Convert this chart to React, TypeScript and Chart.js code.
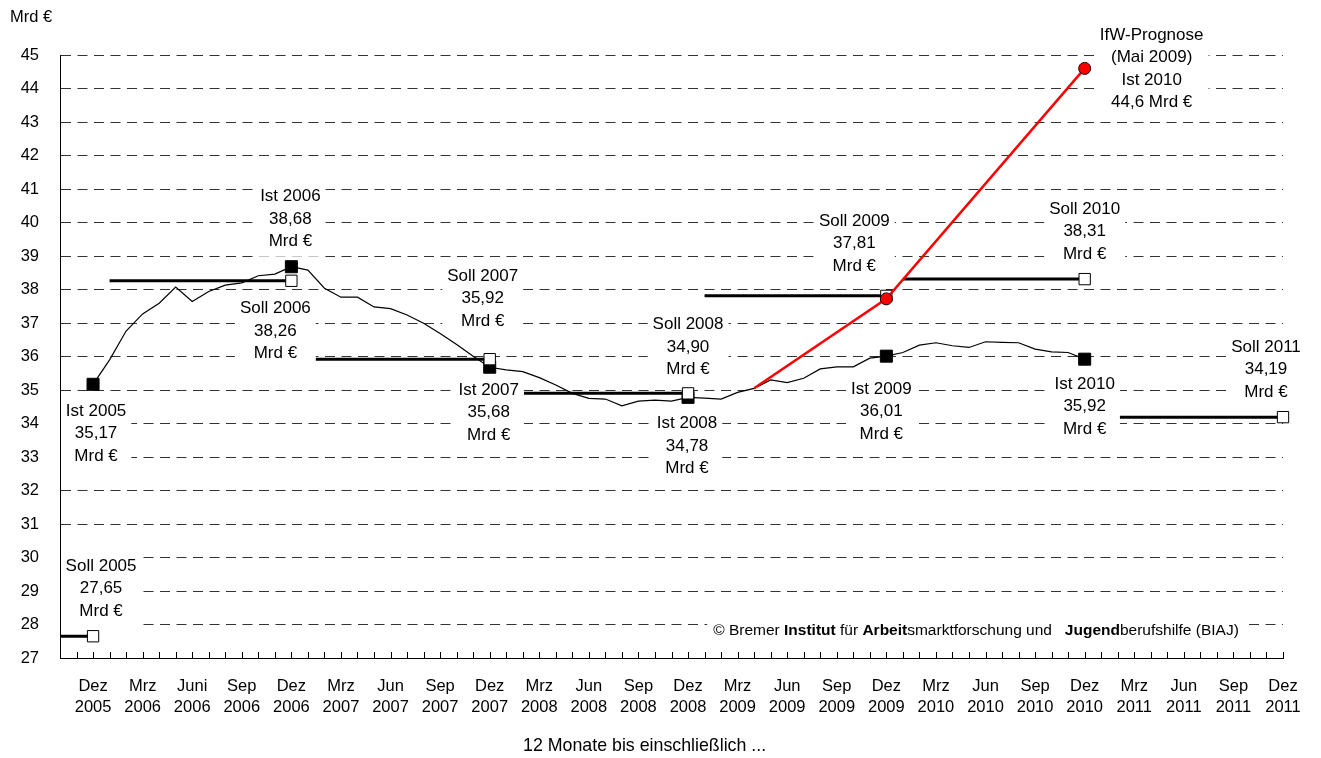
import React, { useEffect, useRef } from 'react';
import { Chart, registerables } from 'chart.js';

Chart.register(...registerables);

// ---------------- data ----------------
// x axis: months counted from Dez 2005 (= 0); axis runs Okt 2005 (-2) .. Dez 2011 (72)
const xMin = -2;
const xMax = 72;
const yMin = 27;
const yMax = 45;

const tickMonths = ['Dez', 'Mrz', 'Juni', 'Sep', 'Dez', 'Mrz', 'Jun', 'Sep', 'Dez', 'Mrz', 'Jun', 'Sep', 'Dez', 'Mrz', 'Jun', 'Sep', 'Dez', 'Mrz', 'Jun', 'Sep', 'Dez', 'Mrz', 'Jun', 'Sep', 'Dez'];
const tickYears = ['2005', '2006', '2006', '2006', '2006', '2007', '2007', '2007', '2007', '2008', '2008', '2008', '2008', '2009', '2009', '2009', '2009', '2010', '2010', '2010', '2010', '2011', '2011', '2011', '2011'];

// 12-month totals, Dez 2005 .. Dez 2010 (Mrd €)
const istMonthly = [
  35.17, 35.9, 36.76, 37.27, 37.59, 38.07, 37.64, 37.94, 38.13, 38.2, 38.41, 38.46, 38.68,
  38.58, 38.04, 37.77, 37.77, 37.48, 37.43, 37.24, 36.99, 36.69, 36.36, 36.01, 35.68,
  35.6, 35.55, 35.37, 35.15, 34.9, 34.75, 34.73, 34.53, 34.67, 34.7, 34.67, 34.78,
  34.76, 34.73, 34.93, 35.05, 35.3, 35.22, 35.35, 35.63, 35.69, 35.69, 35.95, 36.01,
  36.12, 36.34, 36.41, 36.32, 36.27, 36.44, 36.42, 36.41, 36.22, 36.14, 36.12, 35.92,
];

const istYears = [2005, 2006, 2007, 2008, 2009, 2010];
const istValues = [35.17, 38.68, 35.68, 34.78, 36.01, 35.92];

const sollYears = [2005, 2006, 2007, 2008, 2009, 2010, 2011];
const sollValues = [27.65, 38.26, 35.92, 34.9, 37.81, 38.31, 34.19];

// IfW forecast: Apr 2009, Dez 2009, Dez 2010
const prognoseMonths = [40, 48, 60];
const prognoseValues = [35.05, 37.72, 44.6];
const prognoseText = ['IfW-Prognose', '(Mai 2009)', 'Ist 2010', '44,6 Mrd €'];

const copyrightParts: [string, boolean][] = [
  ['© Bremer ', false],
  ['Institut', true],
  [' für ', false],
  ['Arbeit', true],
  ['smarktforschung und   ', false],
  ['Jugend', true],
  ['berufshilfe (BIAJ)', false],
];
const yUnit = 'Mrd €';
const xTitle = '12 Monate bis einschließlich ...';

// ---------------- layout (pixel offsets of label blocks from their point) ----------------
const istLabelOffsets = [[3, 27], [-1, -70], [-1, 23], [-1, 26], [-5, 33], [0, 25]];
const sollLabelOffsets = [[8, -70], [-16, 28], [-7, -83], [0, -69], [-32, -75], [0, -70], [-17, -70]];
const prognoseLabelOffset = [67, -33.5];

const FONT = '"Liberation Sans", Arial, Helvetica, sans-serif';
const LABEL_SIZE = 17;
const LINE_H = 22.5;
const COPY_SIZE = 15.5;

const yearEnd = (year: number) => (year - 2005) * 12;
const fmt = (v: number) => v.toFixed(2).replace('.', ',');

type Lbl = { lines: string[]; px: number; py: number };

function buildLabels(chart: any): Lbl[] {
  const xs = chart.scales.x;
  const ys = chart.scales.y;
  const out: Lbl[] = [];
  istYears.forEach((yr, i) => {
    out.push({
      lines: ['Ist ' + yr, fmt(istValues[i]), 'Mrd €'],
      px: xs.getPixelForValue(yearEnd(yr)) + istLabelOffsets[i][0],
      py: ys.getPixelForValue(istValues[i]) + istLabelOffsets[i][1],
    });
  });
  sollYears.forEach((yr, i) => {
    out.push({
      lines: ['Soll ' + yr, fmt(sollValues[i]), 'Mrd €'],
      px: xs.getPixelForValue(yearEnd(yr)) + sollLabelOffsets[i][0],
      py: ys.getPixelForValue(sollValues[i]) + sollLabelOffsets[i][1],
    });
  });
  const last = prognoseMonths.length - 1;
  out.push({
    lines: prognoseText,
    px: xs.getPixelForValue(prognoseMonths[last]) + prognoseLabelOffset[0],
    py: ys.getPixelForValue(prognoseValues[last]) + prognoseLabelOffset[1],
  });
  return out;
}

function copyrightGeometry(chart: any) {
  const ctx = chart.ctx as CanvasRenderingContext2D;
  const area = chart.chartArea;
  let total = 0;
  const widths = copyrightParts.map(([t, b]) => {
    ctx.font = `${b ? 'bold ' : ''}${COPY_SIZE}px ${FONT}`;
    const w = ctx.measureText(t).width;
    total += w;
    return w;
  });
  const cx = area.left + area.width * 0.749;
  const cy = area.bottom - 27;
  return { widths, total, x0: cx - total / 2, cy };
}

const SOLL_LINES_INDEX = 4;

const annotationPlugin = {
  id: 'biajAnnotations',
  afterDatasetDraw(chart: any, args: any) {
    if (args.index !== SOLL_LINES_INDEX) return;
    // white label backgrounds (hide grid lines and Soll bars)
    const ctx = chart.ctx as CanvasRenderingContext2D;
    const area = chart.chartArea;
    ctx.save();
    ctx.font = `${LABEL_SIZE}px ${FONT}`;
    ctx.fillStyle = '#ffffff';
    buildLabels(chart).forEach((l) => {
      const w = Math.max(...l.lines.map((s) => ctx.measureText(s).width));
      let left = l.px - w / 2 - 5;
      const right = l.px + w / 2 + 5;
      left = Math.max(left, area.left + 1);
      const top = l.py - 15;
      const bottom = l.py + (l.lines.length - 1) * LINE_H + 15;
      ctx.fillRect(left, top, right - left, bottom - top);
    });
    const c = copyrightGeometry(chart);
    ctx.fillRect(c.x0 - 6, c.cy - 10, c.total + 12, 20);
    ctx.restore();
  },
  afterDatasetsDraw(chart: any) {
    const ctx = chart.ctx as CanvasRenderingContext2D;
    ctx.save();
    ctx.fillStyle = '#000';
    ctx.textAlign = 'center';
    ctx.textBaseline = 'middle';
    ctx.font = `${LABEL_SIZE}px ${FONT}`;
    buildLabels(chart).forEach((l) => {
      l.lines.forEach((s, k) => ctx.fillText(s, l.px, l.py + k * LINE_H));
    });
    const c = copyrightGeometry(chart);
    ctx.textAlign = 'left';
    let x = c.x0;
    copyrightParts.forEach(([t, b], i) => {
      ctx.font = `${b ? 'bold ' : ''}${COPY_SIZE}px ${FONT}`;
      ctx.fillText(t, x, c.cy);
      x += c.widths[i];
    });
    ctx.restore();
  },
  afterDraw(chart: any) {
    const ctx = chart.ctx as CanvasRenderingContext2D;
    const area = chart.chartArea;
    const xs = chart.scales.x;
    ctx.save();
    // inside tick marks, one per month
    ctx.strokeStyle = '#000';
    ctx.lineWidth = 1;
    ctx.beginPath();
    for (let m = xMin; m <= xMax; m++) {
      const px = Math.round(xs.getPixelForValue(m)) + 0.5;
      ctx.moveTo(px, area.bottom);
      ctx.lineTo(px, area.bottom - 6);
    }
    ctx.stroke();
    // unit and axis title
    ctx.fillStyle = '#000';
    ctx.textBaseline = 'middle';
    ctx.textAlign = 'left';
    ctx.font = `16.5px ${FONT}`;
    ctx.fillText(yUnit, area.left - 50, area.top - 38);
    ctx.textAlign = 'center';
    ctx.font = `17.8px ${FONT}`;
    ctx.fillText(xTitle, area.left + area.width * 0.478, area.bottom + 88);
    ctx.restore();
  },
};

export default function App() {
  const ref = useRef<HTMLCanvasElement>(null);

  useEffect(() => {
    const sollLineData: any[] = [];
    sollYears.forEach((yr, i) => {
      sollLineData.push({ x: yearEnd(yr) - 11, y: sollValues[i] });
      sollLineData.push({ x: yearEnd(yr), y: sollValues[i] });
      sollLineData.push({ x: yearEnd(yr) + 0.5, y: null });
    });

    const chart = new Chart(ref.current as HTMLCanvasElement, {
      type: 'line',
      data: {
        datasets: [
          {
            label: 'IfW-Prognose',
            data: prognoseMonths.map((m, i) => ({ x: m, y: prognoseValues[i] })),
            borderColor: '#ff0000',
            borderWidth: 2.5,
            pointRadius: (c: any) => (c.dataIndex === 0 ? 0 : 6),
            pointBackgroundColor: '#ff0000',
            pointBorderColor: '#200000',
            pointBorderWidth: 1,
            tension: 0,
            clip: false,
            order: 1,
          },
          {
            label: 'Soll',
            data: sollYears.map((yr, i) => ({ x: yearEnd(yr), y: sollValues[i] })),
            showLine: false,
            pointStyle: 'rect',
            pointRadius: 8,
            pointBackgroundColor: '#ffffff',
            pointBorderColor: '#000000',
            pointBorderWidth: 1,
            clip: false,
            order: 2,
          },
          {
            label: 'Ist',
            data: istYears.map((yr, i) => ({ x: yearEnd(yr), y: istValues[i] })),
            showLine: false,
            pointStyle: 'rect',
            pointRadius: 8.5,
            pointBackgroundColor: '#000000',
            pointBorderColor: '#000000',
            pointBorderWidth: 1,
            clip: false,
            order: 3,
          },
          {
            label: 'Ist monatlich',
            data: istMonthly.map((v, i) => ({ x: i, y: v })),
            borderColor: '#000000',
            borderWidth: 1.2,
            pointRadius: 0,
            tension: 0,
            order: 4,
          },
          {
            label: 'Soll-Linien',
            data: sollLineData,
            borderColor: '#000000',
            borderWidth: 3,
            pointRadius: 0,
            spanGaps: false,
            order: 5,
          },
        ] as any,
      },
      options: {
        animation: false,
        responsive: false,
        events: [],
        layout: { padding: { top: 55, right: 38, left: 0, bottom: 0 } },
        plugins: {
          legend: { display: false },
          tooltip: { enabled: false },
          title: { display: false },
        },
        scales: {
          x: {
            type: 'linear',
            min: xMin,
            max: xMax,
            afterFit: (s: any) => {
              s.height = 100;
            },
            grid: { display: false, drawTicks: false },
            border: { display: true, color: '#000', width: 1 },
            ticks: {
              stepSize: 1,
              autoSkip: false,
              maxRotation: 0,
              minRotation: 0,
              padding: 18,
              color: '#000',
              font: { family: FONT, size: 16.5, lineHeight: 1.27 },
              callback: (v: any) => {
                const i = Math.round(Number(v));
                if (i >= 0 && i % 3 === 0) {
                  const k = i / 3;
                  return [tickMonths[k], tickYears[k]];
                }
                return '';
              },
            },
          },
          y: {
            type: 'linear',
            min: yMin,
            max: yMax,
            afterFit: (s: any) => {
              s.width = 60;
            },
            grid: {
              color: (c: any) => (c.tick && c.tick.value === yMin ? 'rgba(0,0,0,0)' : '#333333'),
              lineWidth: 1,
              drawTicks: false,
            },
            border: { display: true, color: '#000', width: 1, dash: [10, 6.5] },
            ticks: {
              stepSize: 1,
              padding: 21,
              color: '#000',
              font: { family: FONT, size: 16.5 },
            },
          },
        },
      } as any,
      plugins: [annotationPlugin],
    });
    return () => chart.destroy();
  }, []);

  return (
    <canvas
      ref={ref}
      width={1321}
      height={758}
      style={{ position: 'fixed', left: 0, top: 0, display: 'block', background: '#fff' }}
    />
  );
}
